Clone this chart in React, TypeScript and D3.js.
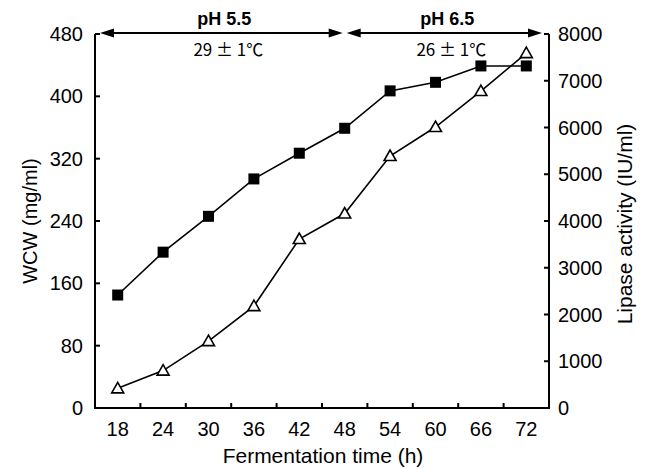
import React from "react";
import * as d3 from "d3";

const times = ["18", "24", "30", "36", "42", "48", "54", "60", "66", "72"];
const wcw = [145, 200, 246, 294, 327, 359, 407, 418, 439, 439];
const lipase = [420, 800, 1430, 2180, 3615, 4160, 5390, 6010, 6780, 7590];
const leftTicks = [0, 80, 160, 240, 320, 400, 480];
const rightTicks = [0, 1000, 2000, 3000, 4000, 5000, 6000, 7000, 8000];
const phases = [
  { ph: "pH 5.5", temp: "29 ± 1℃", from: null as string | null, to: "48" },
  { ph: "pH 6.5", temp: "26 ± 1℃", from: "48", to: null as string | null },
];

const W = 647, H = 469;
const M = { left: 95, right: 549, top: 34, bottom: 408 };
const FONT = "'Liberation Sans', Arial, sans-serif";

export default function App() {
  const x = d3.scaleBand<string>().domain(times).range([M.left, M.right]).padding(0);
  const yL = d3.scaleLinear().domain([0, 480]).range([M.bottom, M.top]);
  const yR = d3.scaleLinear().domain([0, 8000]).range([M.bottom, M.top]);
  const cx = (t: string) => (x(t) as number) + x.bandwidth() / 2;

  const lineL = d3.line<number>().x((_, i) => cx(times[i])).y((d) => yL(d));
  const lineR = d3.line<number>().x((_, i) => cx(times[i])).y((d) => yR(d));

  const arrowY = 33;
  const headL = 14, headH = 4.5;
  const arrow = (x1: number, x2: number, key: string) => (
    <g key={key}>
      <line x1={x1 + headL - 1} x2={x2 - headL + 1} y1={arrowY} y2={arrowY} stroke="#000" strokeWidth={2.2} />
      <polygon points={`${x1},${arrowY} ${x1 + headL},${arrowY - headH} ${x1 + headL},${arrowY + headH}`} fill="#000" />
      <polygon points={`${x2},${arrowY} ${x2 - headL},${arrowY - headH} ${x2 - headL},${arrowY + headH}`} fill="#000" />
    </g>
  );

  const tri = (cxp: number, cyp: number) => {
    const s = 6;
    return `${cxp},${cyp - s} ${cxp - s},${cyp + s * 0.75} ${cxp + s},${cyp + s * 0.75}`;
  };

  return (
    <svg width={W} height={H} style={{ position: "absolute", left: 0, top: 0, background: "#fff" }} fontFamily={FONT}>
      <rect width={W} height={H} fill="#fff" />
      <line x1={M.left} x2={M.left} y1={M.top} y2={M.bottom} stroke="#000" strokeWidth={2} />
      <line x1={M.right} x2={M.right} y1={M.top} y2={M.bottom + 1} stroke="#000" strokeWidth={2} />
      <line x1={M.left - 1} x2={M.right + 1} y1={M.bottom} y2={M.bottom} stroke="#000" strokeWidth={2} />
      {times.slice(1).map((t) => (
        <line key={"xt" + t} x1={x(t) as number} x2={x(t) as number} y1={M.bottom} y2={M.bottom - 5} stroke="#000" strokeWidth={2} />
      ))}
      {times.map((t) => (
        <text key={"xl" + t} x={cx(t)} y={436} fontSize={20} textAnchor="middle">{t}</text>
      ))}
      {leftTicks.map((v) => (
        <g key={"lt" + v}>
          <line x1={M.left} x2={M.left + 5} y1={yL(v)} y2={yL(v)} stroke="#000" strokeWidth={2} />
          <text x={83} y={yL(v) + 7} fontSize={20} textAnchor="end">{v}</text>
        </g>
      ))}
      {rightTicks.map((v) => (
        <g key={"rt" + v}>
          <line x1={M.right - 5} x2={M.right} y1={yR(v)} y2={yR(v)} stroke="#000" strokeWidth={2} />
          <text x={558} y={yR(v) + 7} fontSize={20} textAnchor="start">{v}</text>
        </g>
      ))}
      <text x={323} y={463} fontSize={21} textAnchor="middle">Fermentation time (h)</text>
      <text transform={`translate(37,${(M.top + M.bottom) / 2}) rotate(-90)`} fontSize={20} textAnchor="middle">WCW (mg/ml)</text>
      <text transform={`translate(632,${(M.top + M.bottom) / 2 + 3}) rotate(-90)`} fontSize={21} textAnchor="middle">Lipase activity (IU/ml)</text>
      {phases.map((p, i) => {
        const x1 = p.from === null ? M.left + 5 : cx(p.from) + 2;
        const x2 = p.to === null ? M.right - 7 : cx(p.to) - 2;
        const mid = (x1 + x2) / 2 + 3;
        return (
          <g key={"ph" + i}>
            {arrow(x1, x2, "a" + i)}
            <text x={mid} y={25} fontSize={18} fontWeight="bold" textAnchor="middle">{p.ph}</text>
            <text x={mid + 4} y={56} fontSize={17} textAnchor="middle" fontFamily="'Noto Sans CJK SC', 'Liberation Sans', sans-serif">{p.temp}</text>
          </g>
        );
      })}
      <path d={lineL(wcw) || ""} fill="none" stroke="#000" strokeWidth={1.6} />
      <path d={lineR(lipase) || ""} fill="none" stroke="#000" strokeWidth={1.6} />
      {wcw.map((v, i) => (
        <rect key={"sq" + i} x={cx(times[i]) - 5.5} y={yL(v) - 5.5} width={11} height={11} fill="#000" />
      ))}
      {lipase.map((v, i) => (
        <polygon key={"tr" + i} points={tri(cx(times[i]), yR(v))} fill="#fff" stroke="#000" strokeWidth={1.6} />
      ))}
    </svg>
  );
}
